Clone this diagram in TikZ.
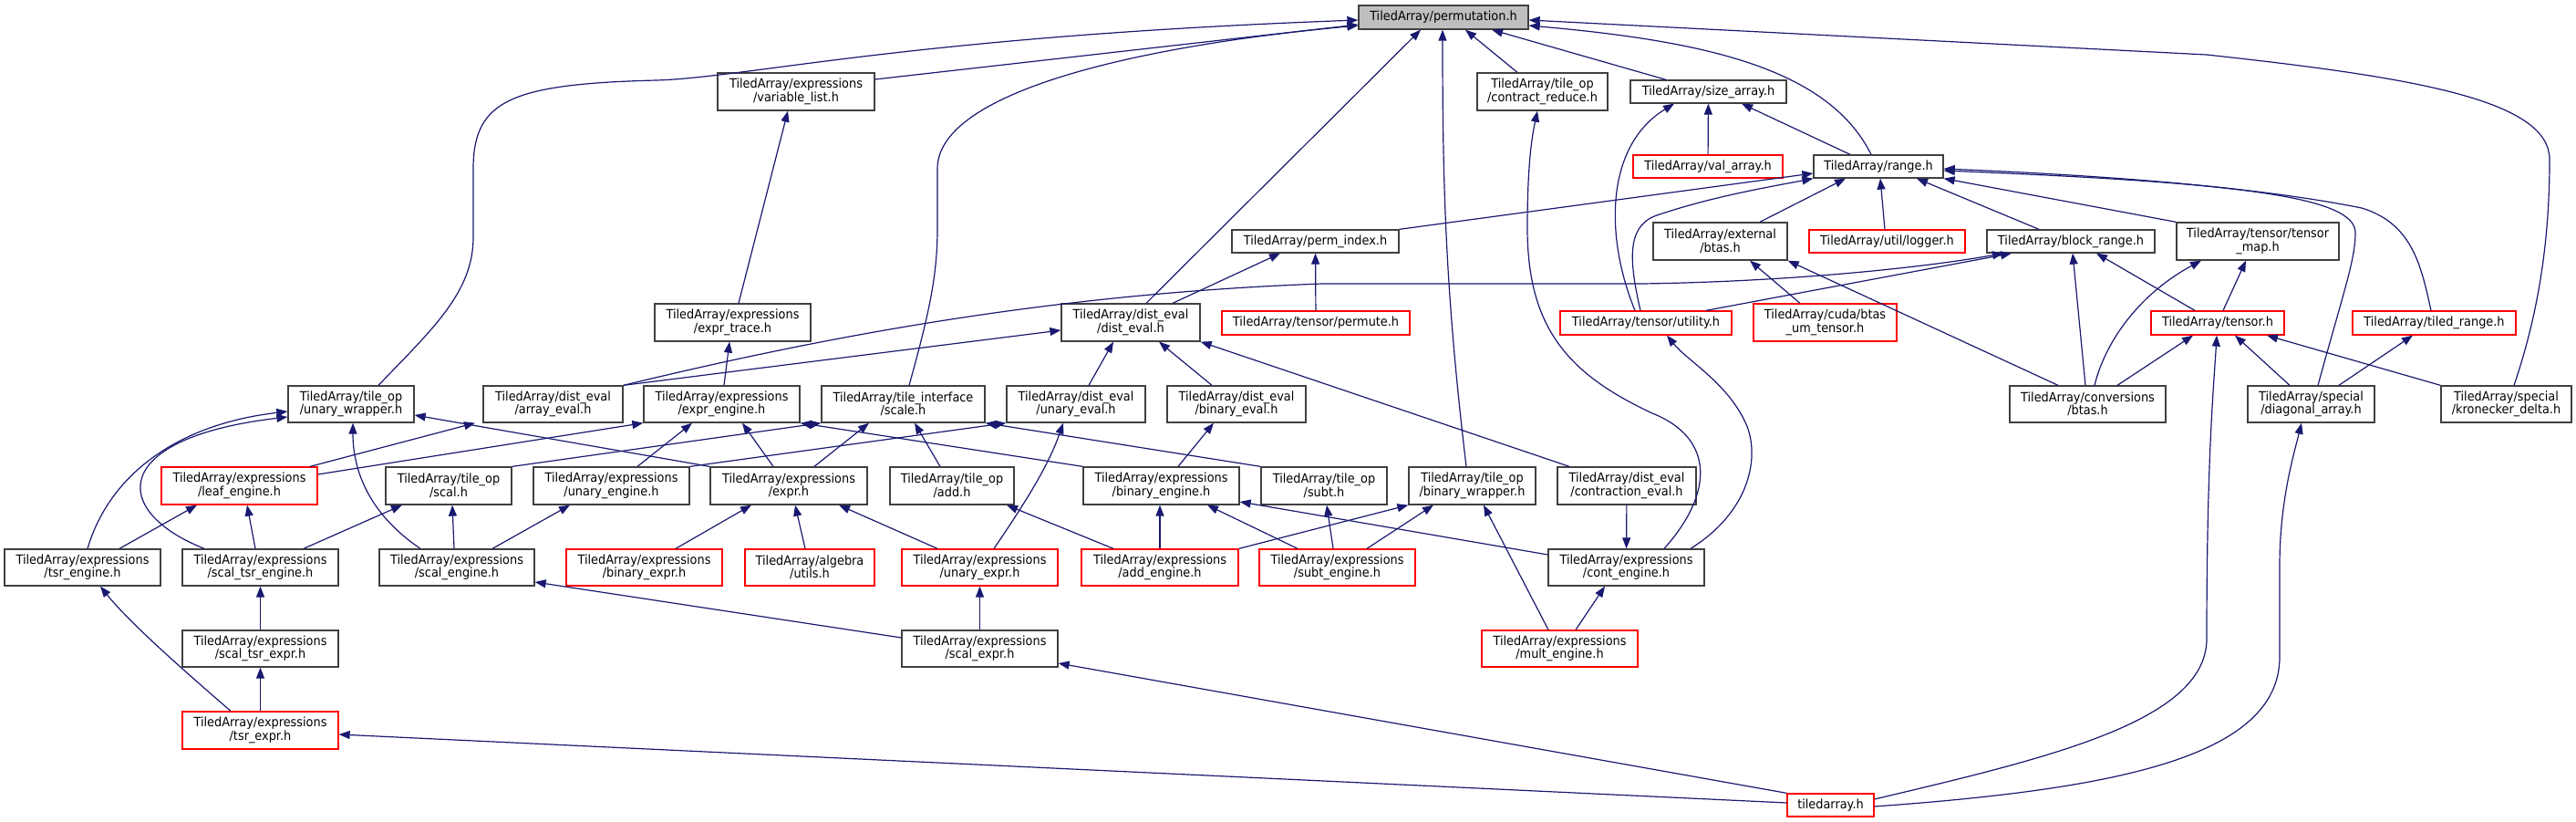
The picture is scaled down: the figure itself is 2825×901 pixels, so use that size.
\documentclass[tikz,border=0pt]{standalone}
\usepackage{fontspec}
\setmainfont{DejaVu Sans}[FakeStretch=0.92]
\usetikzlibrary{arrows.meta,calc}
\definecolor{edgec}{HTML}{191970}
\definecolor{boxgray}{HTML}{BFBFBF}
\definecolor{bline}{HTML}{404040}
\begin{document}
\begin{tikzpicture}[x=1pt,y=-1pt,
  bx/.style 2 args={draw=bline, line width=1.3pt, fill=white, inner sep=0pt, align=center,
     font=\fontsize{14}{14.5}\selectfont, minimum width=#1pt, minimum height=#2pt},
  rbx/.style 2 args={bx={#1}{#2}, draw=red},
  edg/.style={draw=edgec, line width=1.2pt, -{Triangle[length=12pt,width=9pt]}}]
\useasboundingbox (0,0) rectangle (2825,901);
% nodes
\node[bx={186}{26}, fill=boxgray] (P) at (1583,19) {TiledArray/permutation.h};
\node[bx={172}{41}] (VL) at (873,100.5) {TiledArray/expressions\\/variable\_list.h};
\node[bx={143}{41}] (CR) at (1691.5,100.5) {TiledArray/tile\_op\\/contract\_reduce.h};
\node[bx={171}{25}] (SA) at (1873.5,100.5) {TiledArray/size\_array.h};
\node[rbx={164}{25}] (VA) at (1873,182.5) {TiledArray/val\_array.h};
\node[bx={142}{25}] (RG) at (2060,182.5) {TiledArray/range.h};
\node[bx={183}{25}] (PI) at (1442.5,264.5) {TiledArray/perm\_index.h};
\node[bx={147}{41}] (EB) at (1886.5,264.5) {TiledArray/external\\/btas.h};
\node[rbx={171}{25}] (LG) at (2069.5,264.5) {TiledArray/util/logger.h};
\node[bx={184}{25}] (BR) at (2271,264.5) {TiledArray/block\_range.h};
\node[bx={178}{41}] (TM) at (2476,264.5) {TiledArray/tensor/tensor\\\_map.h};
\node[bx={171}{41}] (ET) at (803.5,353.5) {TiledArray/expressions\\/expr\_trace.h};
\node[bx={152}{41}] (DE) at (1240,353.5) {TiledArray/dist\_eval\\/dist\_eval.h};
\node[rbx={206}{26}] (PM) at (1443,354) {TiledArray/tensor/permute.h};
\node[rbx={188}{26}] (TU) at (1805,354) {TiledArray/tensor/utility.h};
\node[rbx={157}{41}] (CB) at (2001.5,353.5) {TiledArray/cuda/btas\\\_um\_tensor.h};
\node[rbx={146}{26}] (TE) at (2432,354) {TiledArray/tensor.h};
\node[rbx={179}{26}] (TR) at (2669.5,354) {TiledArray/tiled\_range.h};
\node[bx={138}{40}] (UW) at (385,443) {TiledArray/tile\_op\\/unary\_wrapper.h};
\node[bx={153}{40}] (AE) at (606.5,443) {TiledArray/dist\_eval\\/array\_eval.h};
\node[bx={171}{40}] (EE) at (791.5,443) {TiledArray/expressions\\/expr\_engine.h};
\node[bx={179}{40}] (SC) at (990.5,443) {TiledArray/tile\_interface\\/scale.h};
\node[bx={152}{40}] (UE) at (1180,443) {TiledArray/dist\_eval\\/unary\_eval.h};
\node[bx={152}{40}] (BE) at (1356,443) {TiledArray/dist\_eval\\/binary\_eval.h};
\node[bx={171}{40}] (CV) at (2289.5,443) {TiledArray/conversions\\/btas.h};
\node[bx={139}{40}] (DA) at (2534.5,443) {TiledArray/special\\/diagonal\_array.h};
\node[bx={143}{40}] (KD) at (2748.5,443) {TiledArray/special\\/kronecker\_delta.h};
\node[rbx={171}{41}] (LE) at (262.5,532.5) {TiledArray/expressions\\/leaf\_engine.h};
\node[bx={138}{41}] (SL) at (492,532.5) {TiledArray/tile\_op\\/scal.h};
\node[bx={171}{41}] (UN) at (670.5,532.5) {TiledArray/expressions\\/unary\_engine.h};
\node[bx={172}{41}] (EX) at (865,532.5) {TiledArray/expressions\\/expr.h};
\node[bx={136}{41}] (AD) at (1044,532.5) {TiledArray/tile\_op\\/add.h};
\node[bx={171}{41}] (BN) at (1273.5,532.5) {TiledArray/expressions\\/binary\_engine.h};
\node[bx={138}{41}] (SU) at (1452,532.5) {TiledArray/tile\_op\\/subt.h};
\node[bx={139}{41}] (BW) at (1614.5,532.5) {TiledArray/tile\_op\\/binary\_wrapper.h};
\node[bx={152}{41}] (CE) at (1784,532.5) {TiledArray/dist\_eval\\/contraction\_eval.h};
\node[bx={171}{40}] (TS) at (90.5,622) {TiledArray/expressions\\/tsr\_engine.h};
\node[bx={171}{40}] (ST) at (285.5,622) {TiledArray/expressions\\/scal\_tsr\_engine.h};
\node[bx={170}{40}] (SE) at (501,622) {TiledArray/expressions\\/scal\_engine.h};
\node[rbx={171}{40}] (BX) at (706.5,622) {TiledArray/expressions\\/binary\_expr.h};
\node[rbx={142}{40}] (AU) at (888,622) {TiledArray/algebra\\/utils.h};
\node[rbx={171}{40}] (UX) at (1074.5,622) {TiledArray/expressions\\/unary\_expr.h};
\node[rbx={172}{40}] (AN) at (1272,622) {TiledArray/expressions\\/add\_engine.h};
\node[rbx={171}{40}] (SN) at (1466.5,622) {TiledArray/expressions\\/subt\_engine.h};
\node[bx={171}{40}] (CN) at (1783.5,622) {TiledArray/expressions\\/cont\_engine.h};
\node[bx={171}{40}] (SX) at (285.5,711) {TiledArray/expressions\\/scal\_tsr\_expr.h};
\node[bx={171}{40}] (SEX) at (1074.5,711) {TiledArray/expressions\\/scal\_expr.h};
\node[rbx={171}{40}] (ME) at (1710.5,711) {TiledArray/expressions\\/mult\_engine.h};
\node[rbx={171}{41}] (TX) at (285.5,800.5) {TiledArray/expressions\\/tsr\_expr.h};
\node[rbx={95}{25}] (TA) at (2007.5,882.5) {tiledarray.h};
% edges into permutation.h
\draw[edg] (VL.east |- 0,87) -- (P.west |- 0,27);
\draw[edg] (UW.north -| 415,0) .. controls (475,360) and (519,320) .. (519,260) -- (519,185) .. controls (519,110) and (560,92) .. (720,88) .. controls (820,85) and (1000,40) .. (P.west |- 0,22);
\draw[edg] (SC.north -| 997,0) .. controls (1020,340) and (1028,300) .. (1028,250) -- (1028,185) .. controls (1028,100) and (1250,50) .. (P.west |- 0,28);
\draw[edg] (DE.north -| 1257,0) -- (P.south -| 1558,0);
\draw[edg] (BW.north -| 1608,0) .. controls (1585,320) and (1582,200) .. (P.south -| 1582,0);
\draw[edg] (CR.north -| 1664,0) -- (P.south -| 1607,0);
\draw[edg] (SA.north -| 1827,0) -- (P.south -| 1636,0);
\draw[edg] (RG.north -| 2052,0) .. controls (2005,75) and (1870,45) .. (P.east |- 0,28);
\draw[edg] (KD.north -| 2757,0) .. controls (2785,340) and (2796,260) .. (2796,175) .. controls (2796,110) and (2650,85) .. (2420,60) -- (P.east |- 0,22);
% upper part
\draw[edg] (ET.north -| 810,0) -- (VL.south -| 864,0);
\draw[edg] (EE.north -| 794,0) -- (ET.south -| 800,0);
\draw[edg] (TU.north -| 1793,0) .. controls (1760,260) and (1760,160) .. (SA.south -| 1836,0);
\draw[edg] (TU.north -| 1799,0) .. controls (1785,280) and (1785,245) .. (1820,235) .. controls (1880,215) and (1940,205) .. (RG.south west);
\draw[edg] (PI.north east) -- (RG.west |- 0,190);
\draw[edg] (DE.north -| 1286,0) -- (PI.south -| 1404,0);
\draw[edg] (PM) -- (PI);
\draw[edg] (VA) -- (SA);
\draw[edg] (RG.north -| 2029,0) -- (SA.south -| 1910,0);
\draw[edg] (EB.north -| 1930,0) -- (RG.south -| 2024,0);
\draw[edg] (LG.north -| 2067,0) -- (RG.south -| 2062,0);
\draw[edg] (BR.north -| 2236,0) -- (RG.south -| 2102,0);
\draw[edg] (TM.north west) -- (RG.south east);
\draw[edg] (DA.north -| 2542,0) .. controls (2570,320) and (2583,285) .. (2583,255) .. controls (2583,215) and (2450,200) .. (RG.east |- 0,187);
\draw[edg] (TR.north -| 2666,0) .. controls (2655,290) and (2645,245) .. (2590,228) .. controls (2450,200) and (2250,190) .. (RG.east |- 0,185);
\draw[edg] (CB.north -| 1974,0) -- (EB.south -| 1919,0);
\draw[edg] (CV.north -| 2257,0) -- (EB.south east);
\draw[edg] (TU.north -| 1871,0) -- (BR.south -| 2206,0);
\draw[edg] (AE.north east) .. controls (900,370) and (1150,322) .. (1450,311) -- (1800,311) .. controls (1950,309) and (2100,295) .. (BR.south -| 2197,0);
\draw[edg] (CV.north -| 2287,0) -- (BR.south -| 2273,0);
\draw[edg] (TE.north -| 2407,0) -- (BR.south -| 2299,0);
\draw[edg] (CV.north -| 2297,0) .. controls (2310,370) and (2350,320) .. (TM.south -| 2414,0);
\draw[edg] (TE.north -| 2438,0) -- (TM.south -| 2463,0);
\draw[edg] (CV.north -| 2322,0) -- (TE.south -| 2405,0);
\draw[edg] (DA.north -| 2511,0) -- (TE.south -| 2451,0);
\draw[edg] (KD.north west) -- (TE.south -| 2486,0);
\draw[edg] (DA.north -| 2565,0) -- (TR.south -| 2646,0);
\draw[edg] (TA.east |- 0,876) .. controls (2250,830) and (2420,790) .. (2420,700) .. controls (2420,500) and (2428,420) .. (TE.south -| 2431,0);
\draw[edg] (TA.east |- 0,884) .. controls (2320,865) and (2500,830) .. (2500,720) -- (2500,620) .. controls (2500,550) and (2515,500) .. (DA.south -| 2524,0);
% dist_eval cluster
\draw[edg] (CE.north -| 1721,0) -- (DE.south east);
\draw[edg] (UE.north -| 1194,0) -- (DE.south -| 1221,0);
\draw[edg] (BE.north -| 1329,0) -- (DE.south -| 1271,0);
\draw[edg] (AE.north east) -- (DE.west |- 0,362);
% expressions
\draw[edg] (LE.north -| 340,0) -- (AE.south -| 521,0);
\draw[edg] (LE.east |- 0,520) -- (EE.south west);
\draw[edg] (TS.north -| 96,0) .. controls (120,520) and (195,465) .. (UW.west |- 0,451);
\draw[edg] (ST.north -| 224,0) .. controls (120,560) and (120,480) .. (UW.west |- 0,457);
\draw[edg] (SE.north -| 461,0) .. controls (400,560) and (387,510) .. (UW.south -| 387,0);
\draw[edg] (EX.north west) -- (UW.east |- 0,455);
\draw[edg] (EX.north -| 848,0) -- (EE.south -| 814,0);
\draw[edg] (UN.north -| 699,0) -- (EE.south -| 759,0);
\draw[edg] (UN.north east) -- (UE.south west);
\draw[edg] (BN.north west) -- (EE.south east);
\draw[edg] (SL.north east) -- (SC.south west);
\draw[edg] (EX.north -| 893,0) -- (SC.south -| 953,0);
\draw[edg] (AD.north -| 1031,0) -- (SC.south -| 1003,0);
\draw[edg] (SU.north west) -- (SC.south east);
\draw[edg] (BN.north -| 1292,0) -- (BE.south -| 1331,0);
\draw[edg] (UX.north -| 1090,0) .. controls (1125,550) and (1150,510) .. (UE.south -| 1166,0);
\draw[edg] (ST.north -| 333,0) -- (SL.south -| 441,0);
\draw[edg] (SE.north -| 498,0) -- (SL.south -| 496,0);
\draw[edg] (SE.north -| 540,0) -- (UN.south -| 625,0);
\draw[edg] (TS.north -| 131,0) -- (LE.south -| 216,0);
\draw[edg] (ST.north -| 280,0) -- (LE.south -| 271,0);
\draw[edg] (SX) -- (ST);
\draw[edg] (TX) -- (SX);
\draw[edg] (TX.north -| 253,0) .. controls (190,725) and (140,680) .. (TS.south -| 110,0);
\draw[edg] (TA.west |- 0,880) -- (TX.east |- 0,805);
\draw[edg] (SEX.west |- 0,699) -- (SE.east |- 0,638);
\draw[edg] (SEX) -- (UX);
\draw[edg] (TA.north west) -- (SEX.east |- 0,727);
\draw[edg] (BX.north -| 741,0) -- (EX.south -| 824,0);
\draw[edg] (AU.north -| 883,0) -- (EX.south -| 872,0);
\draw[edg] (UX.north -| 1028,0) -- (EX.south -| 920,0);
\draw[edg] (AN.north -| 1221,0) -- (AD.south -| 1104,0);
\draw[edg] (AN.north -| 1272,0) -- (BN.south -| 1272,0);
\draw[edg] (SN.north -| 1423,0) -- (BN.south -| 1324,0);
\draw[edg] (CN.west |- 0,608) -- (BN.east |- 0,550);
\draw[edg] (AN.north east) -- (BW.south west);
\draw[edg] (SN.north -| 1462,0) -- (SU.south -| 1455,0);
\draw[edg] (SN.north -| 1499,0) -- (BW.south -| 1572,0);
\draw[edg] (ME.north -| 1698,0) -- (BW.south -| 1627,0);
\draw[edg] (CE) -- (CN);
\draw[edg] (ME.north -| 1728,0) -- (CN.south -| 1760,0);
\draw[edg] (CN.north -| 1854,0) .. controls (1920,560) and (1930,500) .. (1915,465) .. controls (1895,420) and (1850,395) .. (TU.south -| 1828,0);
\draw[edg] (CN.north -| 1825,0) .. controls (1880,540) and (1880,480) .. (1812,453) .. controls (1720,410) and (1675,360) .. (1675,250) .. controls (1675,180) and (1680,150) .. (CR.south -| 1686,0);
\end{tikzpicture}
\end{document}
